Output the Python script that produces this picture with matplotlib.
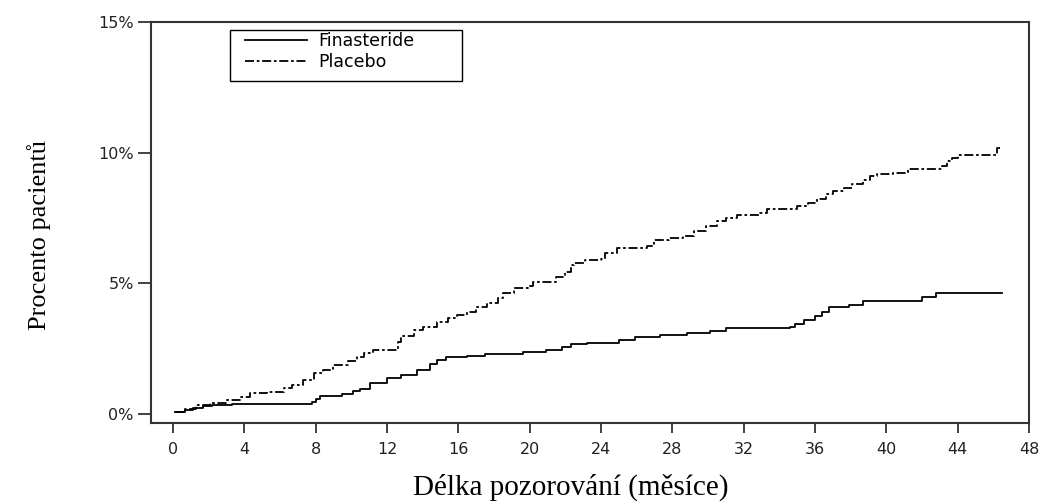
import matplotlib
matplotlib.use("Agg")
import matplotlib.pyplot as plt
from matplotlib.ticker import FuncFormatter
from matplotlib.patches import Rectangle

# Finasteride: (month, cumulative %)
fin_t = [0.1, 0.7, 1.1, 1.7, 2.2, 3.3, 7.6, 7.8, 8.0, 8.25, 9.5, 10.1, 10.5, 11.05, 12.0, 12.8,
         13.7, 14.4, 14.8, 15.3, 16.5, 17.5, 19.6, 20.9, 21.8, 22.3, 23.2, 25.0, 25.9, 27.3,
         28.8, 30.1, 31.0, 34.6, 34.9, 35.4, 36.0, 36.4, 36.8, 37.9, 38.7, 42.0, 42.8, 46.5]
fin_v = [0.08, 0.15, 0.23, 0.3, 0.36, 0.38, 0.38, 0.46, 0.57, 0.69, 0.78, 0.88, 0.95, 1.18, 1.37, 1.49,
         1.68, 1.9, 2.06, 2.18, 2.22, 2.3, 2.37, 2.44, 2.56, 2.67, 2.71, 2.82, 2.94, 3.02,
         3.1, 3.18, 3.28, 3.35, 3.45, 3.6, 3.75, 3.9, 4.08, 4.16, 4.31, 4.47, 4.62, 4.62]

# Placebo: (month, cumulative %)
pla_t = [0.1, 0.7, 1.3, 2.1, 3.0, 3.8, 4.3, 5.3, 6.2, 6.7, 7.3, 7.9, 8.4, 9.0, 9.8, 10.3, 10.7,
         11.2, 12.6, 12.8, 13.5, 14.0, 14.8, 15.4, 15.9, 16.5, 17.0, 17.6, 18.2, 18.5, 19.1,
         19.9, 20.2, 21.5, 22.0, 22.3, 22.5, 23.1, 24.0, 24.2, 24.9, 26.6, 27.0, 27.8, 28.6,
         29.2, 29.9, 30.5, 31.0, 31.6, 32.9, 33.3, 35.0, 35.6, 36.1, 36.6, 37.0, 37.6, 38.1,
         38.7, 39.1, 39.5, 40.4, 41.2, 43.1, 43.4, 43.7, 44.0, 46.2, 46.4]
pla_v = [0.08, 0.2, 0.34, 0.42, 0.53, 0.65, 0.8, 0.84, 0.99, 1.11, 1.3, 1.56, 1.68, 1.87, 2.02, 2.2, 2.33,
         2.44, 2.75, 2.98, 3.21, 3.32, 3.51, 3.66, 3.78, 3.89, 4.08, 4.24, 4.43, 4.62, 4.81,
         4.92, 5.06, 5.23, 5.42, 5.69, 5.8, 5.88, 5.95, 6.15, 6.34, 6.45, 6.68, 6.72, 6.83,
         7.02, 7.21, 7.37, 7.52, 7.6, 7.71, 7.86, 7.98, 8.09, 8.24, 8.44, 8.55, 8.66, 8.8,
         8.97, 9.12, 9.2, 9.24, 9.39, 9.5, 9.7, 9.81, 9.92, 10.19, 10.19]

x_ticks = list(range(0, 49, 4))
y_ticks = [0, 5, 10, 15]
series_labels = ["Finasteride", "Placebo"]
x_label = "Délka pozorování (měsíce)"
y_label = "Procento pacientů"

fig = plt.figure(figsize=(10.43, 5.04), dpi=100)
ax = fig.add_axes([0.1448, 0.1607, 0.8418, 0.7956])

ax.step(fin_t, fin_v, where="post", color="black", lw=1.3, label=series_labels[0])
ax.step(pla_t, pla_v, where="post", color="black", lw=1.3,
        linestyle=(0, (5, 1.5, 1.5, 1.5)), label=series_labels[1])

ax.set_xlim(-1.23, 48)
ax.set_ylim(-0.34, 15)
ax.set_xticks(x_ticks)
ax.set_yticks(y_ticks)
ax.yaxis.set_major_formatter(FuncFormatter(lambda v, p: "%d%%" % v))

for lab in ax.get_xticklabels() + ax.get_yticklabels():
    lab.set_fontfamily("DejaVu Sans")
    lab.set_fontsize(11.5)
    lab.set_color("#222222")
ax.tick_params(axis="x", direction="out", length=7.2, width=1.3, color="#333333", pad=6.5)
ax.tick_params(axis="y", direction="out", length=9.4, width=1.3, color="#333333", pad=3)

for s in ax.spines.values():
    s.set_color("#333333")
    s.set_linewidth(1.5)

fig.text(0.547, 0.034, x_label, ha="center", va="center",
         family="Liberation Serif", size=21)
fig.text(0.037, 0.534, y_label, ha="center", va="center", rotation=90,
         family="Liberation Serif", size=19)

# legend box drawn in axes coordinates
ax.add_patch(Rectangle((0.09, 0.853), 0.264, 0.127, transform=ax.transAxes,
                       fill=False, edgecolor="black", linewidth=1.0, zorder=5))
leg = ax.legend(loc="upper left", bbox_to_anchor=(0.107, 0.975), frameon=False,
                handlelength=3.6, prop=dict(family="DejaVu Sans", size=12.5),
                borderpad=0, labelspacing=0.15, handletextpad=0.6, borderaxespad=0)

fig.savefig("out.png", dpi=100)
